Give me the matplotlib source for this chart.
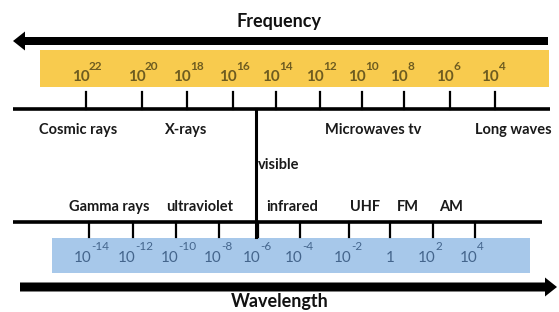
import matplotlib
matplotlib.use("Agg")
import matplotlib.pyplot as plt
from matplotlib.patches import Rectangle, FancyArrow

# ---- data ----
freq_exponents = [22, 20, 18, 16, 14, 12, 10, 8, 6, 4]
wave_exponents = [-14, -12, -10, -8, -6, -4, -2, 0, 2, 4]
upper_labels = ["Cosmic rays", "X-rays", "Microwaves tv", "Long waves"]
lower_labels = ["Gamma rays", "ultraviolet", "infrared", "UHF", "FM", "AM"]
side_label = "visible"
top_title = "Frequency"
bottom_title = "Wavelength"

# ---- layout (pixel space) ----
freq_tick_x = [86, 142, 187, 233, 276, 320, 362, 404, 450, 495]
wave_tick_x = [89, 133, 176, 219, 258, 300, 349, 390, 433, 475]
upper_label_x = [78, 186, 373, 513]
lower_label_x = [109, 200, 292, 365, 408, 451]

W, H = 559, 312
fig = plt.figure(figsize=(W / 100, H / 100), dpi=100)
ax = fig.add_axes([0, 0, 1, 1])
ax.set_xlim(0, W)
ax.set_ylim(H, 0)
ax.axis("off")

FONT = "Lato"
yellow = "#F8CB4E"
blue = "#A7C8EA"
ytext = "#6E5C20"
btext = "#44658C"
LBL = 10.5

# top arrow (pointing left)
ax.add_patch(FancyArrow(548, 41, -535, 0, width=8, head_width=19, head_length=12,
                        length_includes_head=True, color="black", lw=0))
ax.text(279, 22, top_title, ha="center", va="center", fontsize=13,
        fontweight="bold", family=FONT, color="#111111")

# yellow band
ax.add_patch(Rectangle((40, 50), 509, 37, color=yellow, lw=0))
for x, e in zip(freq_tick_x, freq_exponents):
    ax.text(x + 4, 77, "10", ha="right", va="center", fontsize=11, family=FONT,
            color=ytext, fontweight="bold")
    ax.text(x + 3, 66, str(e), ha="left", va="center", fontsize=8.5, family=FONT,
            color=ytext, fontweight="bold")

# upper scale line with ticks
ax.plot([13, 550], [109, 109], color="black", lw=2.6, solid_capstyle="butt")
for x in freq_tick_x:
    ax.plot([x, x], [92, 109], color="black", lw=1.6)

# vertical divider
ax.plot([256, 256], [109, 237], color="black", lw=2.2)

for x, s in zip(upper_label_x, upper_labels):
    ax.text(x, 130, s, ha="center", va="center", fontsize=LBL, family=FONT,
            fontweight="bold", color="#1a1a1a")
ax.text(258, 165, side_label, ha="left", va="center", fontsize=LBL, family=FONT,
        fontweight="bold", color="#1a1a1a")
for x, s in zip(lower_label_x, lower_labels):
    ax.text(x, 207, s, ha="center", va="center", fontsize=LBL, family=FONT,
            fontweight="bold", color="#1a1a1a")

# lower scale line with ticks
ax.plot([13, 542], [222, 222], color="black", lw=2.6, solid_capstyle="butt")
for x in wave_tick_x:
    ax.plot([x, x], [222, 237], color="black", lw=1.6)

# blue band
ax.add_patch(Rectangle((52, 238), 478, 35, color=blue, lw=0))
for x, e in zip(wave_tick_x, wave_exponents):
    if e == 0:
        ax.text(x, 258, "1", ha="center", va="center", fontsize=11, family=FONT,
                color=btext)
        continue
    ax.text(x + 3, 258, "10", ha="right", va="center", fontsize=11, family=FONT,
            color=btext)
    ax.text(x + 2, 247, str(e), ha="left", va="center", fontsize=8.5, family=FONT,
            color=btext)

# bottom arrow (pointing right)
ax.add_patch(FancyArrow(20, 287, 537, 0, width=9, head_width=19, head_length=12,
                        length_includes_head=True, color="black", lw=0))
ax.text(280, 302, bottom_title, ha="center", va="center", fontsize=13,
        fontweight="bold", family=FONT, color="#111111")

fig.savefig("out.png", dpi=100)
